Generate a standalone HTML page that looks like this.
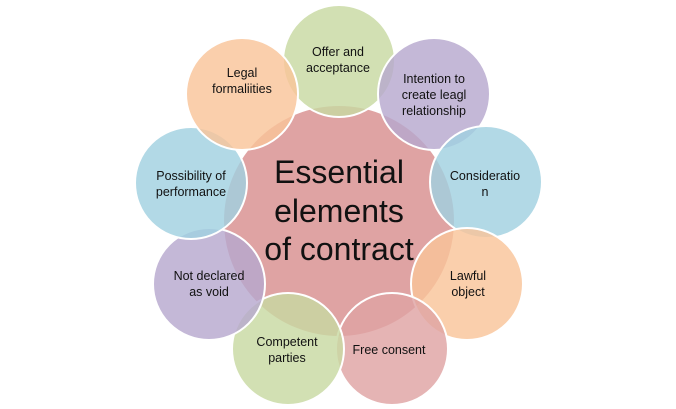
<!DOCTYPE html>
<html><head><style>body{margin:0;background:#fff}svg{display:block}text{font-family:"Liberation Sans",sans-serif;fill:#111;text-anchor:middle}</style></head><body>
<svg width="676" height="409" viewBox="0 0 676 409">
<circle cx="339" cy="221" r="116" fill="#DFA3A3" stroke="#fff" stroke-width="2"/>
<g stroke="#fff" stroke-width="2" fill-opacity="0.82">
<circle cx="339" cy="61" r="56" fill="#C8D9A2"/>
<circle cx="434" cy="94" r="56" fill="#B7A8CE"/>
<circle cx="486" cy="182" r="56" fill="#A1D1E0"/>
<circle cx="467" cy="284" r="56" fill="#F9C49A"/>
<circle cx="392" cy="349" r="56" fill="#DFA3A3"/>
<circle cx="288" cy="349" r="56" fill="#C8D9A2"/>
<circle cx="209" cy="284" r="56" fill="#B7A8CE"/>
<circle cx="191" cy="183" r="56" fill="#A1D1E0"/>
<circle cx="242" cy="94" r="56" fill="#F9C49A"/>
</g>
<g font-size="12.5">
<text x="338" y="56">Offer and</text><text x="338" y="72">acceptance</text>
<text x="434" y="83">Intention to</text><text x="434" y="99">create leagl</text><text x="434" y="115">relationship</text>
<text x="485" y="180">Consideratio</text><text x="485" y="196">n</text>
<text x="468" y="280">Lawful</text><text x="468" y="296">object</text>
<text x="389" y="354">Free consent</text>
<text x="287" y="346">Competent</text><text x="287" y="362">parties</text>
<text x="209" y="280">Not declared</text><text x="209" y="296">as void</text>
<text x="191" y="180">Possibility of</text><text x="191" y="196">performance</text>
<text x="242" y="77">Legal</text><text x="242" y="93">formaliities</text>
</g>
<g font-size="32">
<text x="339" y="183">Essential</text>
<text x="339" y="222">elements</text>
<text x="339" y="260">of contract</text>
</g>
</svg>
</body></html>
